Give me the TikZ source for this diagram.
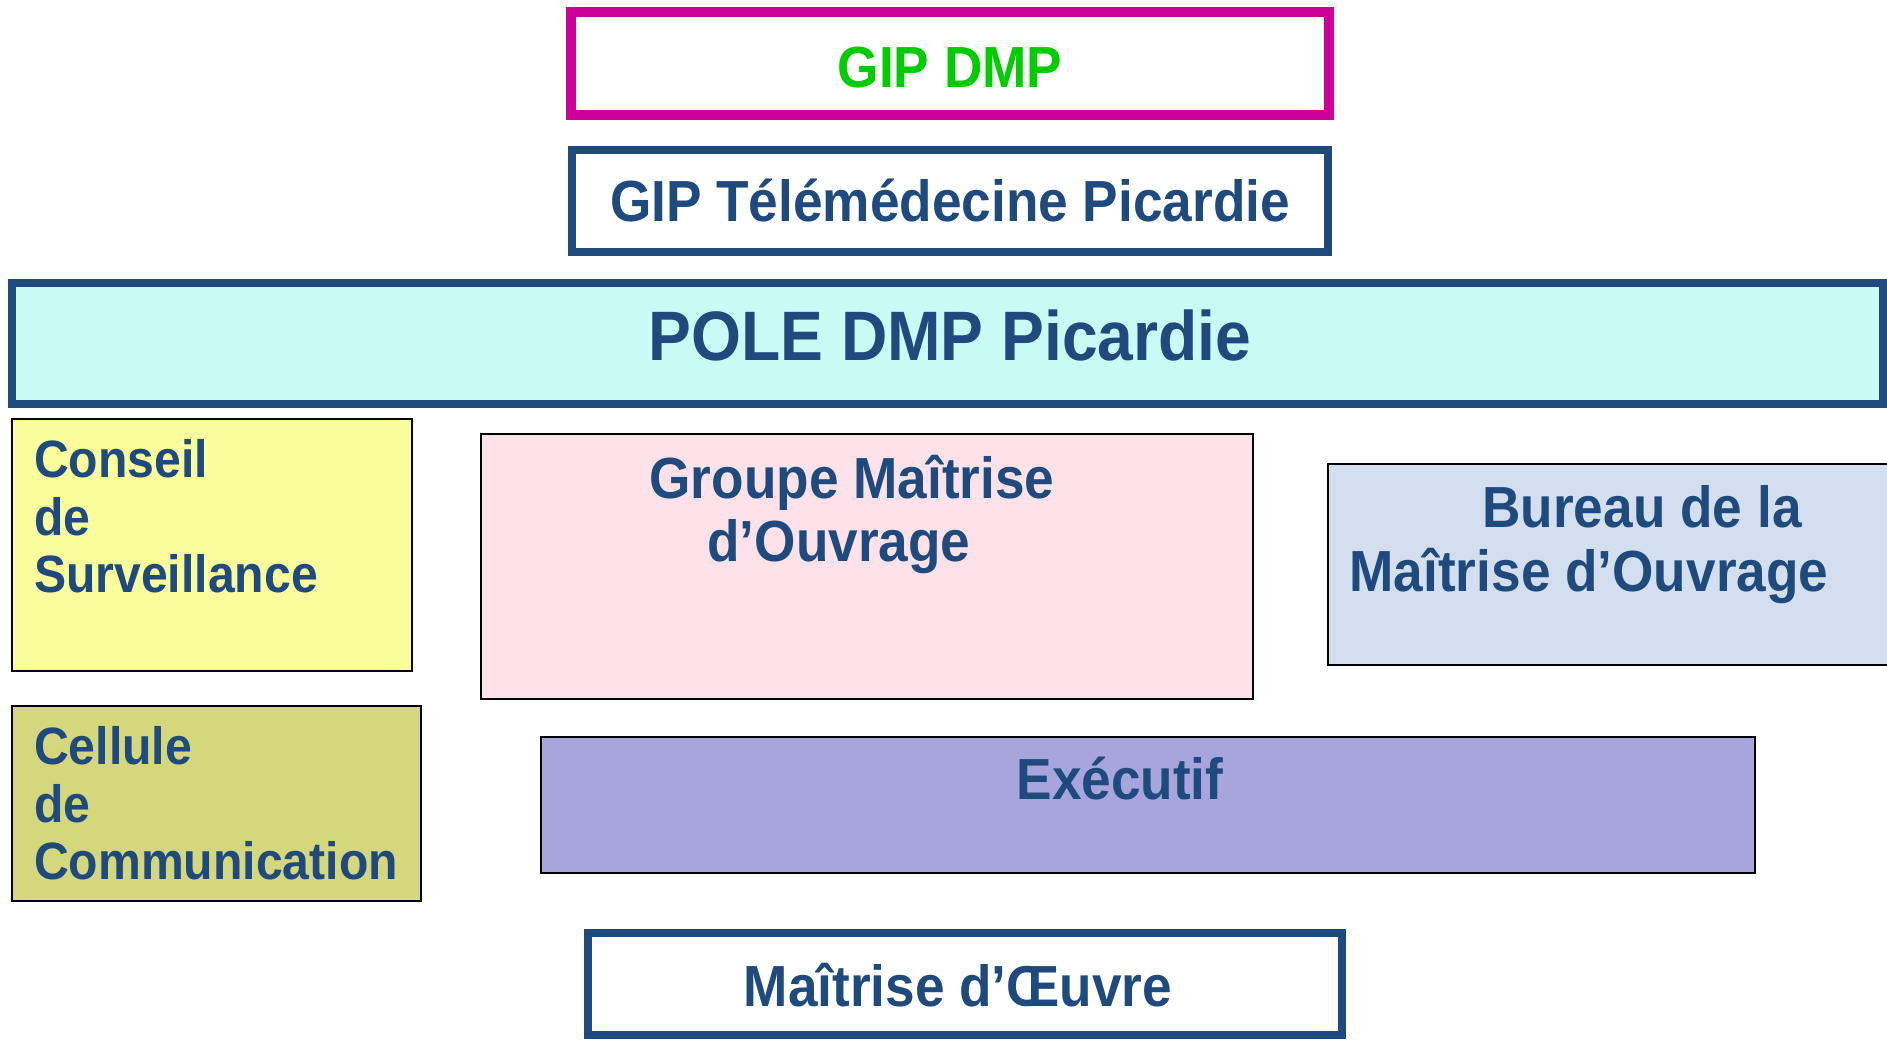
\documentclass[tikz,border=0pt]{standalone}
\usepackage{fontspec}
\setmainfont{Liberation Sans}[FakeStretch=0.917]
\definecolor{magen}{HTML}{CC0099}
\definecolor{gtxt}{HTML}{00CC00}
\definecolor{dblue}{HTML}{1F4A7E}
\definecolor{polefill}{HTML}{C8FCF4}
\definecolor{conseilfill}{HTML}{FAFD9C}
\definecolor{groupefill}{HTML}{FDE2E9}
\definecolor{bureaufill}{HTML}{D3DFEE}
\definecolor{cellulefill}{HTML}{D4D77C}
\definecolor{execfill}{HTML}{A7A5DC}
\begin{document}
\begin{tikzpicture}[x=1pt,y=-1pt,
  box/.style={draw, anchor=north west, inner sep=0pt, outer sep=0pt},
  thinbox/.style={box, draw=black, line width=2.5pt},
  txt/.style={anchor=base, inner sep=0pt, text=dblue, font=\bfseries\fontsize{58}{64}\selectfont},
  smalltxt/.style={anchor=base west, inner sep=0pt, text=dblue, font=\bfseries\fontsize{52.5}{57}\selectfont}]
\useasboundingbox (0,0) rectangle (1887,1039);
% boxes
\node[box, draw=magen, line width=10pt, fill=white, minimum width=758pt, minimum height=103pt] (gipdmp) at (571,12) {};
\node[box, draw=dblue, line width=8.5pt, fill=white, minimum width=756pt, minimum height=102pt] (gipt) at (572,150) {};
\node[box, draw=dblue, line width=8pt, fill=polefill, minimum width=1871pt, minimum height=121pt] (pole) at (12,283) {};
\node[thinbox, fill=conseilfill, minimum width=400pt, minimum height=252pt] (conseil) at (12,419) {};
\node[thinbox, fill=groupefill, minimum width=772pt, minimum height=265pt] (groupe) at (481,434) {};
\node[thinbox, fill=bureaufill, minimum width=567pt, minimum height=201pt] (bureau) at (1328,464) {};
\node[thinbox, fill=cellulefill, minimum width=409pt, minimum height=195pt] (cellule) at (12,706) {};
\node[thinbox, fill=execfill, minimum width=1214pt, minimum height=136pt] (exec) at (541,737) {};
\node[box, draw=dblue, line width=8pt, fill=white, minimum width=754pt, minimum height=102pt] (moe) at (588,933) {};
% texts
\node[txt, text=gtxt] (tgipdmp) at (950,87) {GIP DMP};
\node[txt] (tgipt) at (950,221) {GIP Télémédecine Picardie};
\node[txt, font=\bfseries\fontsize{70}{76}\selectfont] (tpole) at (950,360) {POLE DMP Picardie};
\node[smalltxt] (c1) at (34,477) {Conseil};
\node[smalltxt] (c2) at (34,535) {de};
\node[smalltxt] (c3) at (34,592) {Surveillance};
\node[txt] (g1) at (852,498) {Groupe Maîtrise};
\node[txt] (g2) at (839,561) {d’Ouvrage};
\node[txt] (b1) at (1642,527) {Bureau de la};
\node[txt] (b2) at (1589,591) {Maîtrise d’Ouvrage};
\node[smalltxt] (e1) at (34,764) {Cellule};
\node[smalltxt] (e2) at (34,822) {de};
\node[smalltxt] (e3) at (34,879) {Communication};
\node[txt] (texec) at (1120,799) {Exécutif};
\node[txt] (tmoe) at (958,1006) {Maîtrise d’Œuvre};
\end{tikzpicture}
\end{document}
